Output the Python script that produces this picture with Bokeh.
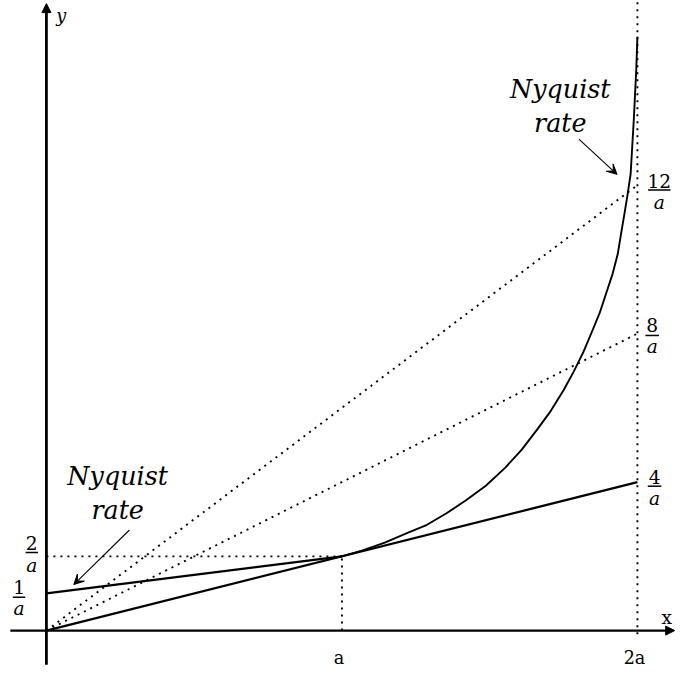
from bokeh.plotting import figure
from bokeh.models import Arrow, NormalHead, VeeHead, Label, Range1d
from bokeh.embed import file_html
from bokeh.resources import INLINE

# ---- data (x in units of a, y in units of 1/a) ----
curve_x = [1.0, 1.07, 1.145, 1.222, 1.288, 1.354, 1.420, 1.487, 1.553, 1.608, 1.663,
           1.707, 1.751, 1.784, 1.817, 1.845, 1.872, 1.894, 1.916, 1.933, 1.944,
           1.955, 1.966, 1.977, 1.988, 1.996, 2.0]
curve_y = [2.0, 2.16, 2.37, 2.63, 2.85, 3.16, 3.51, 3.90, 4.39, 4.87, 5.44,
           5.92, 6.49, 6.97, 7.50, 8.03, 8.55, 9.08, 9.61, 10.13, 10.66,
           11.18, 11.71, 12.3, 13.8, 15.1, 16.0]
nyq_left_x = [0.0, 1.0]
nyq_left_y = [1.0, 2.0]
tangent_x = [0.0, 2.0]
tangent_y = [0.0, 4.0]
ray8_x = [0.0, 2.0]
ray8_y = [0.0, 8.0]
ray12_x = [0.0, 2.0]
ray12_y = [0.0, 12.0]
x_tick_values = [1.0, 2.0]
x_tick_labels = ["a", "2a"]
y_left_ticks = [1.0, 2.0]
y_right_ticks = [4.0, 8.0, 12.0]

W, H = 676, 673
S = W / 692.0                 # picture scale
OX, OY = 47 * S, 645 * S      # origin in figure pixels
PXX = 302.5 * S               # px per unit a
PXY = 38.0 * S                # px per unit 1/a

p = figure(width=W, height=H, output_backend="svg", toolbar_location=None,
           x_range=Range1d(-OX / PXX, (W - OX) / PXX),
           y_range=Range1d(-(H - OY) / PXY, OY / PXY),
           x_axis_location=None, y_axis_location=None, min_border=0)
p.grid.visible = False
p.outline_line_color = None
p.background_fill_color = "white"
p.border_fill_color = "white"

SERIF = "DejaVu Serif"
black = "black"
DOT = "2 5"


def fs(px):
    return f"{px * S:.1f}px"


# dotted guides
p.line([0, 1], [2, 2], line_color=black, line_width=1.9, line_dash=DOT)
p.line([1, 1], [0, 2], line_color=black, line_width=1.9, line_dash=DOT)
p.line([2, 2], [-0.1, 17.0], line_color=black, line_width=1.9, line_dash=DOT)
p.line(ray8_x, ray8_y, line_color=black, line_width=1.9, line_dash=DOT)
p.line(ray12_x, ray12_y, line_color=black, line_width=1.9, line_dash=DOT)

# solid lines
p.line(nyq_left_x, nyq_left_y, line_color=black, line_width=2.3)
p.line(tangent_x, tangent_y, line_color=black, line_width=2.3)
p.line(curve_x, curve_y, line_color=black, line_width=1.9, line_join="round")

# axes with arrows
p.add_layout(Arrow(end=NormalHead(size=9, fill_color=black, line_color=black),
                   x_start=-0.122, y_start=0, x_end=2.126, y_end=0,
                   line_width=2.4, line_color=black))
p.add_layout(Arrow(end=NormalHead(size=9, fill_color=black, line_color=black),
                   x_start=0, y_start=-0.92, x_end=0, y_end=16.89,
                   line_width=2.8, line_color=black))

# axis names
p.add_layout(Label(x=2.099, y=0.34, text="x", text_font=SERIF, text_font_size=fs(19),
                   text_color=black, text_align="center", text_baseline="middle"))
p.add_layout(Label(x=0.05, y=16.55, text="y", text_font=SERIF, text_font_style="italic",
                   text_font_size=fs(18), text_color=black, text_align="center", text_baseline="middle"))

# x tick labels
for xv, lab in zip(x_tick_values, x_tick_labels):
    p.add_layout(Label(x=xv - 0.01, y=-0.74, text=lab, text_font=SERIF, text_font_size=fs(18),
                       text_color=black, text_align="center", text_baseline="middle"))


# fraction labels
def frac(cx, num, num_y, bar_y, den_y, half):
    p.add_layout(Label(x=cx, y=num_y, text=num, text_font=SERIF, text_font_size=fs(19),
                       text_color=black, text_align="center", text_baseline="middle"))
    p.segment(x0=[cx - half], y0=[bar_y], x1=[cx + half], y1=[bar_y], line_color=black, line_width=1.5)
    p.add_layout(Label(x=cx, y=den_y, text="a", text_font=SERIF, text_font_style="italic",
                       text_font_size=fs(19), text_color=black, text_align="center", text_baseline="middle"))


# left: 1/a and 2/a
frac(-0.0926, str(int(y_left_ticks[0])), y_left_ticks[0] + 0.18, y_left_ticks[0] - 0.105, y_left_ticks[0] - 0.40, 0.021)
frac(-0.0496, str(int(y_left_ticks[1])), y_left_ticks[1] + 0.37, y_left_ticks[1] + 0.105, y_left_ticks[1] - 0.24, 0.021)
# right: 4/a, 8/a, 12/a
frac(2.058, str(int(y_right_ticks[0])), y_right_ticks[0] + 0.15, y_right_ticks[0] - 0.11, y_right_ticks[0] - 0.44, 0.023)
frac(2.050, str(int(y_right_ticks[1])), y_right_ticks[1] + 0.22, y_right_ticks[1] - 0.05, y_right_ticks[1] - 0.36, 0.023)
frac(2.074, str(int(y_right_ticks[2])), y_right_ticks[2] + 0.12, y_right_ticks[2] - 0.13, y_right_ticks[2] - 0.48, 0.038)

# Nyquist rate annotations
for cx, cy in [(0.241, 4.16), (1.739, 14.6)]:
    p.add_layout(Label(x=cx, y=cy, text="Nyquist", text_font=SERIF, text_font_style="italic",
                       text_font_size=fs(26), text_color=black, text_align="center", text_baseline="middle"))
    p.add_layout(Label(x=cx, y=cy - 0.92, text="rate", text_font=SERIF, text_font_style="italic",
                       text_font_size=fs(26), text_color=black, text_align="center", text_baseline="middle"))

p.add_layout(Arrow(end=VeeHead(size=10, fill_color=black, line_color=black),
                   x_start=0.281, y_start=2.71, x_end=0.0926, y_end=1.24,
                   line_width=1.1, line_color=black))
p.add_layout(Arrow(end=VeeHead(size=10, fill_color=black, line_color=black),
                   x_start=1.802, y_start=13.24, x_end=1.931, y_end=12.29,
                   line_width=1.1, line_color=black))

open("out.html", "w").write(file_html(p, INLINE))
